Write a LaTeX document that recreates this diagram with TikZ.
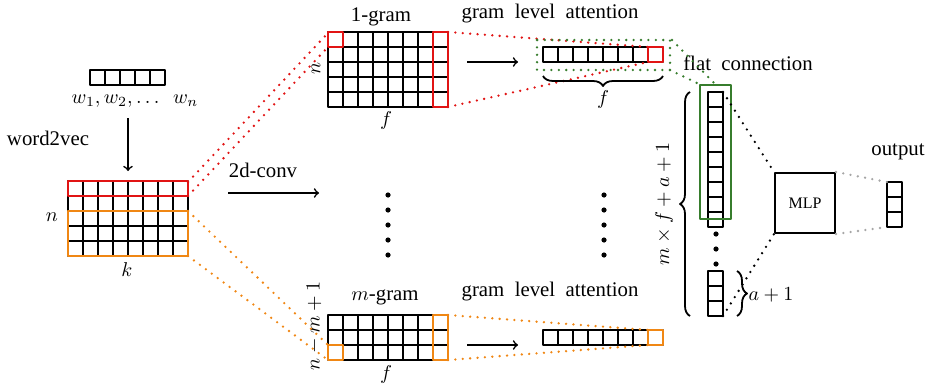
\documentclass[tikz,border=0pt]{standalone}
\usepackage{fontspec}
\setmainfont{Liberation Serif}
\usetikzlibrary{decorations.pathreplacing}
\definecolor{gramred}{RGB}{225,20,20}
\definecolor{gramorange}{RGB}{240,135,20}
\definecolor{flatgreen}{RGB}{55,125,45}
\tikzset{
	cell/.style={draw, line width=1pt},
	dotlink/.style={line width=1.3pt, line cap=round, dash pattern=on 0pt off 3.7pt},
	brc/.style={decorate, decoration={brace, amplitude=5pt}, line width=0.9pt},
}
% cols x rows of small cells, top left corner at (#1,#2)
\newcommand{\cells}[4]{%
	\foreach \i in {1,...,#3}{\foreach \j in {1,...,#4}{%
		\draw[cell] ({#1+15*(\i-1)},{#2+15*(\j-1)}) rectangle ++(15,15);}}}
\begin{document}
\begin{tikzpicture}[x=0.5pt, y=-0.5pt, font=\fontsize{10.4}{12}\selectfont, line join=round, >=to]
			\useasboundingbox (0,0) rectangle (926,391);
			% words and embedding
			\cells{90}{70}{5}{1}
			\node (words) at (135,101) {$w_1, w_2, \ldots\ \ w_n$};
			\node (w2v) at (48,138) {word2vec};
			\coordinate (emtop) at (128,118);
			\coordinate (embot) at (128,171);
			\draw[->, line width=0.8pt] (emtop)--(embot);
			\cells{68}{181}{8}{5}
			\draw[cell, gramred] (68,181) rectangle (188,196);
			\draw[cell, gramorange] (68,211) rectangle (188,256);
			\node (en) at (52,217) {$n$};
			\node (ek) at (127,270) {$k$};
			% convolution
			\node (conv) at (263,170) {2d-conv};
			\coordinate (cvl) at (228,193);
			\coordinate (cvr) at (319,193);
			\draw[->, line width=0.8pt] (cvl)--(cvr);
			% 1-gram
			\cells{328}{32}{8}{5}
			\draw[cell, gramred] (328,32) rectangle (343,47);
			\draw[cell, gramred] (433,32) rectangle (448,107);
			\node (g1) at (381,17) {1-gram};
			\node[rotate=90] (g1n) at (316,68) {$n$};
			\node (g1f) at (386,120) {$f$};
			% m-gram
			\cells{328}{315}{8}{3}
			\draw[cell, gramorange] (328,345) rectangle (343,360);
			\draw[cell, gramorange] (433,315) rectangle (448,360);
			\node (gm) at (385,297) {$m$-gram};
			\node[rotate=90] (gmn) at (314,326) {$n-m+1$};
			\node (gmf) at (386,374) {$f$};
			% links from the embedding
			\draw[dotlink, gramred] (188,182)--(328,33) (188,196)--(328,47);
			\draw[dotlink, gramorange] (188,211)--(328,345) (188,256)--(328,360);
			% gram level attention
			\node (att1) at (550,14) {gram\ \ level\ \ attention};
			\node (att2) at (550,292) {gram\ \ level\ \ attention};
			\draw[->, line width=0.8pt] (467,62)--(518,62);
			\draw[->, line width=0.8pt] (467,345)--(518,345);
			\cells{543}{47}{8}{1}
			\draw[cell, gramred] (648,47) rectangle (663,62);
			\cells{543}{330}{8}{1}
			\draw[cell, gramorange] (648,330) rectangle (663,345);
			\draw[dotlink, gramred] (448,32)--(648,47) (448,107)--(648,62);
			\draw[dotlink, gramorange] (448,315)--(648,330) (448,360)--(648,345);
			\draw[brc] (663,76)--(543,76);
			\node (attf) at (603,99) {$f$};
			% middle dots
			\foreach \k in {195,210,...,255}{
				\fill (388,\k) circle (1.3pt);
				\fill (604,\k) circle (1.3pt);
			}
			% flat connection
			\draw[dotlink, flatgreen] (537,40) rectangle (670,70);
			\node (flat) at (748,63) {flat\ \ connection};
			\cells{708}{92}{1}{9}
			\foreach \k in {234,249,264}{\fill (716,\k) circle (1.3pt);}
			\cells{708}{271}{1}{3}
			\draw[line width=1pt, flatgreen] (700,85) rectangle (731,219);
			\draw[dotlink, flatgreen] (672,40)--(716,85) (670,70)--(701,85);
			\draw[brc] (690,316)--(690,92);
			\node[rotate=90] (len) at (664,204) {$m\times f+a+1$};
			\draw[brc] (737,271)--(737,316);
			\node (a1) at (771,295) {$a+1$};
			% MLP and output
			\node[draw, line width=1pt, minimum size=30pt, font=\footnotesize] (mlp) at (805,203) {MLP};
			\draw[dotlink] (723,92)--(mlp.north west) (723,316)--(mlp.south west);
			\cells{887}{182}{1}{3}
			\node (out) at (898,152) {output};
			\draw[dotlink, gray!70] (mlp.north east)--(887,182) (mlp.south east)--(887,227);
		\end{tikzpicture}
\end{document}
